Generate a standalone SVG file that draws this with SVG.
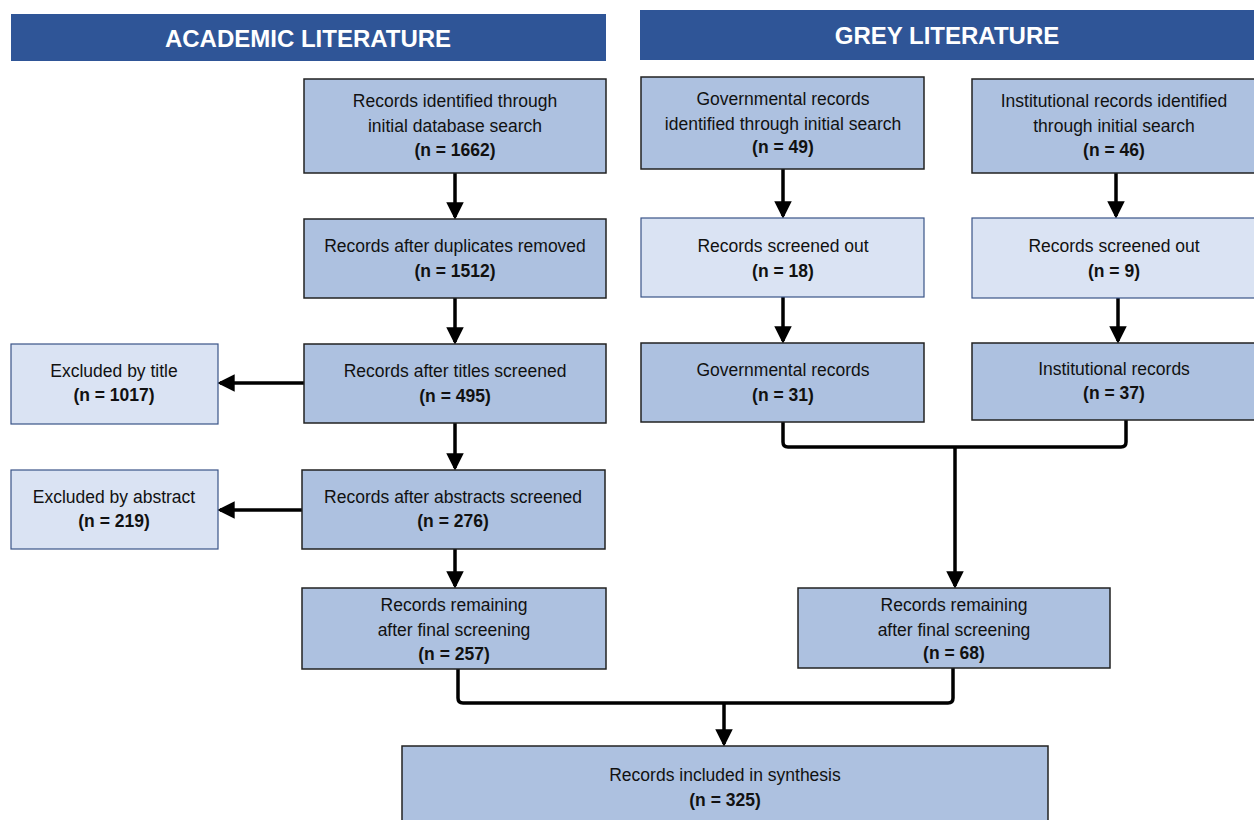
<svg xmlns="http://www.w3.org/2000/svg" width="1254" height="820" viewBox="0 0 1254 820">
<defs>
<style>
.hdr{fill:#2F5597}
.ht{fill:#fff;font-family:"Liberation Sans",Arial,sans-serif;font-weight:bold;font-size:24px;text-anchor:middle}
.bx{fill:#ADC1E0;stroke:#222;stroke-width:1.5}
.lt{fill:#DAE3F3;stroke:#3A5488;stroke-width:1.2}
.t{font-family:"Liberation Sans",Arial,sans-serif;font-size:17.5px;fill:#111;text-anchor:middle}
.b{font-weight:bold}
.c{fill:none;stroke:#000;stroke-width:3.5;stroke-linejoin:round}
</style>
<marker id="ah" markerWidth="5" markerHeight="5" refX="4.2" refY="2.5" orient="auto" markerUnits="strokeWidth">
<path d="M0,0 L5,2.5 L0,5 Z" fill="#000"/>
</marker>
</defs>
<rect width="1254" height="820" fill="#fff"/>

<g id="hdr-academic"><rect class="hdr" x="11" y="14" width="595" height="47"/><text class="ht" x="308" y="47">ACADEMIC LITERATURE</text></g>
<g id="hdr-grey"><rect class="hdr" x="640" y="10" width="614" height="50"/><text class="ht" x="947" y="44">GREY LITERATURE</text></g>

<g id="connectors">
<path class="c" d="M455,173 V217" marker-end="url(#ah)"/>
<path class="c" d="M455,298 V342" marker-end="url(#ah)"/>
<path class="c" d="M455,423 V468" marker-end="url(#ah)"/>
<path class="c" d="M455,549 V586" marker-end="url(#ah)"/>
<path class="c" d="M304,383 H220" marker-end="url(#ah)"/>
<path class="c" d="M302,510 H220" marker-end="url(#ah)"/>
<path class="c" d="M783,169 V216" marker-end="url(#ah)"/>
<path class="c" d="M1116,173 V216" marker-end="url(#ah)"/>
<path class="c" d="M783,297 V341" marker-end="url(#ah)"/>
<path class="c" d="M1118,298 V341" marker-end="url(#ah)"/>
<path class="c" d="M783,422 V442 Q783,447 788,447 H1121 Q1126,447 1126,442 V420"/>
<path class="c" d="M955,447 V586" marker-end="url(#ah)"/>
<path class="c" d="M458,669 V698 Q458,703 463,703 H948 Q953,703 953,698 V668"/>
<path class="c" d="M724,703 V744" marker-end="url(#ah)"/>
</g>

<g id="n-initial"><rect class="bx" x="304" y="79" width="302" height="94"/>
<text class="t" x="455" y="107">Records identified through</text>
<text class="t" x="455" y="132">initial database search</text>
<text class="t b" x="455" y="156">(n = 1662)</text></g>

<g id="n-dup"><rect class="bx" x="304" y="219" width="302" height="79"/>
<text class="t" x="455" y="252">Records after duplicates removed</text>
<text class="t b" x="455" y="277">(n = 1512)</text></g>

<g id="n-titles"><rect class="bx" x="304" y="344" width="302" height="79"/>
<text class="t" x="455" y="377">Records after titles screened</text>
<text class="t b" x="455" y="402">(n = 495)</text></g>

<g id="n-abstracts"><rect class="bx" x="302" y="470" width="303" height="79"/>
<text class="t" x="453" y="503">Records after abstracts screened</text>
<text class="t b" x="453" y="527">(n = 276)</text></g>

<g id="n-final-acad"><rect class="bx" x="302" y="588" width="304" height="81"/>
<text class="t" x="454" y="611">Records remaining</text>
<text class="t" x="454" y="636">after final screening</text>
<text class="t b" x="454" y="660">(n = 257)</text></g>

<g id="n-excl-title"><rect class="lt" x="11" y="344" width="207" height="80"/>
<text class="t" x="114" y="377">Excluded by title</text>
<text class="t b" x="114" y="401">(n = 1017)</text></g>

<g id="n-excl-abstract"><rect class="lt" x="11" y="470" width="207" height="79"/>
<text class="t" x="114" y="503">Excluded by abstract</text>
<text class="t b" x="114" y="527">(n = 219)</text></g>

<g id="n-gov-initial"><rect class="bx" x="641" y="77" width="283" height="92"/>
<text class="t" x="783" y="105">Governmental records</text>
<text class="t" x="783" y="130">identified through initial search</text>
<text class="t b" x="783" y="153">(n = 49)</text></g>

<g id="n-inst-initial"><rect class="bx" x="972" y="79" width="284" height="94"/>
<text class="t" x="1114" y="107">Institutional records identified</text>
<text class="t" x="1114" y="132">through initial search</text>
<text class="t b" x="1114" y="156">(n = 46)</text></g>

<g id="n-gov-out"><rect class="lt" x="641" y="218" width="283" height="79"/>
<text class="t" x="783" y="252">Records screened out</text>
<text class="t b" x="783" y="277">(n = 18)</text></g>

<g id="n-inst-out"><rect class="lt" x="972" y="218" width="284" height="80"/>
<text class="t" x="1114" y="252">Records screened out</text>
<text class="t b" x="1114" y="277">(n = 9)</text></g>

<g id="n-gov"><rect class="bx" x="641" y="343" width="283" height="79"/>
<text class="t" x="783" y="376">Governmental records</text>
<text class="t b" x="783" y="401">(n = 31)</text></g>

<g id="n-inst"><rect class="bx" x="972" y="343" width="284" height="77"/>
<text class="t" x="1114" y="375">Institutional records</text>
<text class="t b" x="1114" y="399">(n = 37)</text></g>

<g id="n-final-grey"><rect class="bx" x="798" y="588" width="312" height="80"/>
<text class="t" x="954" y="611">Records remaining</text>
<text class="t" x="954" y="636">after final screening</text>
<text class="t b" x="954" y="659">(n = 68)</text></g>

<g id="n-synthesis"><rect class="bx" x="402" y="746" width="646" height="80"/>
<text class="t" x="725" y="781">Records included in synthesis</text>
<text class="t b" x="725" y="806">(n = 325)</text></g>
</svg>
